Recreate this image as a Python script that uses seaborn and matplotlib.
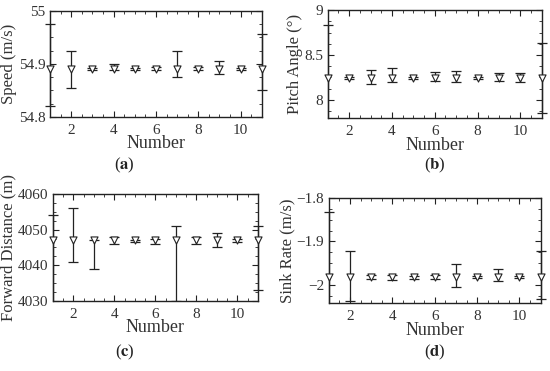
import numpy as np
import pandas as pd

import matplotlib
matplotlib.use('Agg')
import matplotlib.pyplot as plt  # plotting library
from matplotlib.ticker import AutoMinorLocator
from matplotlib.patches import Rectangle

import seaborn as sns  # plotting library

# run number on the x axis
number = [1, 2, 3, 4, 5, 6, 7, 8, 9, 10, 11]

# (a) speed
speed_mean = [54.891, 54.891, 54.891, 54.891, 54.891, 54.891, 54.891, 54.891, 54.891, 54.891, 54.891]
speed_low = [54.820, 54.855, 54.889, 54.889, 54.889, 54.888, 54.875, 54.888, 54.880, 54.889, 54.850]
speed_high = [54.975, 54.925, 54.893, 54.900, 54.892, 54.894, 54.925, 54.894, 54.905, 54.893, 54.956]

# (b) pitch angle
pitch_mean = [8.246, 8.246, 8.246, 8.246, 8.246, 8.246, 8.246, 8.246, 8.246, 8.246, 8.246]
pitch_low = [7.650, 8.236, 8.180, 8.200, 8.236, 8.210, 8.200, 8.238, 8.210, 8.200, 7.860]
pitch_high = [8.836, 8.256, 8.330, 8.350, 8.256, 8.310, 8.320, 8.254, 8.300, 8.300, 8.638]

# (c) forward distance
dist_mean = [4047, 4047, 4047, 4047, 4047, 4047, 4047, 4047, 4047, 4047, 4047]
dist_low = [4020, 4041, 4039, 4046, 4046.6, 4046, 4030, 4046, 4045, 4046.6, 4033]
dist_high = [4054, 4056, 4047.2, 4048, 4047.2, 4047.4, 4051, 4048, 4049, 4047.3, 4051]

# (d) sink rate
sink_mean = [-1.982, -1.982, -1.982, -1.982, -1.982, -1.982, -1.982, -1.982, -1.982, -1.982, -1.982]
sink_low = [-2.130, -2.038, -1.986, -1.988, -1.986, -1.986, -2.005, -1.984, -1.990, -1.984, -2.032]
sink_high = [-1.832, -1.921, -1.978, -1.978, -1.979, -1.978, -1.952, -1.980, -1.964, -1.980, -1.921]

panels = [
    ("Speed (m/s)", speed_mean, speed_low, speed_high, (54.8, 55.0), [54.8, 54.9, 55.0], ["54.8", "54.9", "55"], "a"),
    ("Pitch Angle (°)", pitch_mean, pitch_low, pitch_high, (7.8, 9.0), [8.0, 8.5, 9.0], ["8", "8.5", "9"], "b"),
    ("Forward Distance (m)", dist_mean, dist_low, dist_high, (4030, 4060), [4030, 4040, 4050, 4060], ["4030", "4040", "4050", "4060"], "c"),
    ("Sink Rate (m/s)", sink_mean, sink_low, sink_high, (-2.042, -1.8), [-2.0, -1.9, -1.8], ["\u22122", "\u22121.9", "\u22121.8"], "d"),
]

axes_pos = [
    [0.091, 0.685, 0.385, 0.286],
    [0.596, 0.682, 0.389, 0.291],
    [0.096, 0.189, 0.373, 0.288],
    [0.598, 0.183, 0.385, 0.283],
]
letter_pos = [(0.227, 0.555), (0.791, 0.555), (0.227, 0.051), (0.791, 0.051)]

sns.set_theme(style="ticks")
plt.rcParams['font.family'] = ['Liberation Serif', 'DejaVu Serif']
plt.rcParams['mathtext.fontset'] = 'stix'

fig = plt.figure(figsize=(5.5, 3.71), dpi=100)
line_col = "#222222"

for (ylabel, mean, low, high, ylim, yt, ytl, letter), pos, lpos in zip(panels, axes_pos, letter_pos):
    ax = fig.add_axes(pos)
    df = pd.DataFrame({"Number": number, "value": mean})
    yerr = np.array([np.array(mean) - np.array(low), np.array(high) - np.array(mean)])
    eb = ax.errorbar(number, mean, yerr=yerr, fmt="none", ecolor=line_col, elinewidth=0.9,
                     capsize=3.5, capthick=0.9, zorder=2)
    # clip vertically to the axes but let the caps on the edge columns stick out
    clip = Rectangle((-0.06, 0), 1.12, 1, transform=ax.transAxes, facecolor="none", edgecolor="none")
    for art in eb.lines[1] + eb.lines[2]:
        art.set_clip_path(clip)
    sns.scatterplot(data=df, x="Number", y="value", marker="v", s=26, facecolor="white",
                    edgecolor=line_col, linewidth=0.8, ax=ax, zorder=3, clip_on=False, legend=False)
    ax.set_xlim(1, 11)
    ax.set_ylim(*ylim)
    ax.set_xticks([2, 4, 6, 8, 10])
    ax.set_yticks(yt)
    ax.set_yticklabels(ytl)
    ax.xaxis.set_minor_locator(AutoMinorLocator(4))
    ax.yaxis.set_minor_locator(AutoMinorLocator(4))
    ax.tick_params(which="both", direction="in", top=True, right=True, colors=line_col,
                   labelsize=11, labelcolor="#333333")
    ax.tick_params(which="major", length=4, width=0.8)
    ax.tick_params(which="minor", length=2, width=0.6)
    ax.tick_params(axis="x", pad=5)
    for s in ax.spines.values():
        s.set_color(line_col)
        s.set_linewidth(1.0)
    ax.set_xlabel("Number", fontsize=13, color="#333333", labelpad=-1)
    ax.set_ylabel(ylabel, fontsize=12, color="#333333", labelpad=1)
    fig.text(lpos[0], lpos[1], "(" + r"$\mathbf{" + letter + "}$" + ")", ha="center", va="center",
             fontsize=12, color="#222222")

fig.savefig("out.png", dpi=100)
